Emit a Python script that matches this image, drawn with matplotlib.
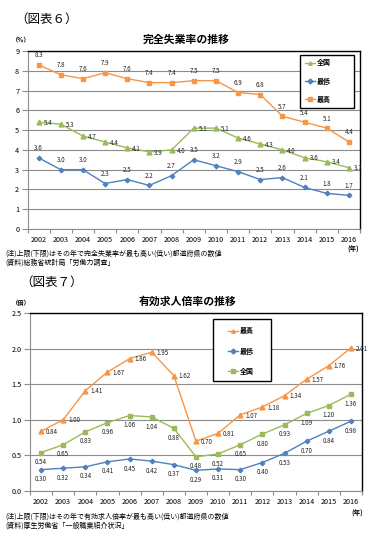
import matplotlib
matplotlib.use("Agg")
import matplotlib.pyplot as plt
from matplotlib.patches import Rectangle

plt.rcParams['font.family'] = ['Noto Sans CJK JP', 'DejaVu Sans']

years = ['2002', '2003', '2004', '2005', '2006', '2007', '2008', '2009',
         '2010', '2011', '2012', '2013', '2014', '2015', '2016']

# Chart 6: unemployment rate (%)
u_national = [5.4, 5.3, 4.7, 4.4, 4.1, 3.9, 4.0, 5.1, 5.1, 4.6, 4.3, 4.0, 3.6, 3.4, 3.1]
u_lowest = [3.6, 3.0, 3.0, 2.3, 2.5, 2.2, 2.7, 3.5, 3.2, 2.9, 2.5, 2.6, 2.1, 1.8, 1.7]
u_highest = [8.3, 7.8, 7.6, 7.9, 7.6, 7.4, 7.4, 7.5, 7.5, 6.9, 6.8, 5.7, 5.4, 5.1, 4.4]
u_yticks = [0, 1, 2, 3, 4, 5, 6, 7, 8, 9]

# Chart 7: job openings-to-applicants ratio
j_highest = [0.84, 1.00, 1.41, 1.67, 1.86, 1.95, 1.62, 0.70, 0.81, 1.07, 1.18, 1.34, 1.57, 1.76, 2.01]
j_lowest = [0.30, 0.32, 0.34, 0.41, 0.45, 0.42, 0.37, 0.29, 0.31, 0.30, 0.40, 0.53, 0.70, 0.84, 0.98]
j_national = [0.54, 0.65, 0.83, 0.96, 1.06, 1.04, 0.88, 0.48, 0.52, 0.65, 0.80, 0.93, 1.09, 1.20, 1.36]
j_yticks = [0.0, 0.5, 1.0, 1.5, 2.0, 2.5]

GREEN = '#9BBB59'
BLUE = '#4F81BD'
ORANGE = '#F79646'
GRID = '#8C8C8C'

W, H = 380, 546
fig = plt.figure(figsize=(W / 100, H / 100), dpi=100)


def px_axes(l, t, r, b):
    return fig.add_axes([l / W, 1 - b / H, (r - l) / W, (b - t) / H])


def style_axes(ax, yticks, fmt):
    n = len(years)
    ax.set_xlim(-0.5, n - 0.5)
    ax.set_ylim(yticks[0], yticks[-1])
    ax.set_yticks(yticks)
    ax.set_yticklabels([fmt.format(v) for v in yticks], fontsize=5.2)
    ax.set_xticks(range(n))
    ax.set_xticklabels(years, fontsize=5.2)
    ax.set_xticks([i - 0.5 for i in range(n + 1)], minor=True)
    ax.tick_params(axis='x', which='major', length=0, pad=5)
    ax.tick_params(axis='x', which='minor', length=3, color=GRID, width=0.8)
    ax.tick_params(axis='y', length=4, color=GRID, width=0.8, pad=2)
    ax.grid(axis='y', color=GRID, lw=0.8)
    ax.set_axisbelow(True)
    for s in ('left', 'bottom'):
        ax.spines[s].set_color(GRID)
        ax.spines[s].set_linewidth(0.8)
    for s in ('top', 'right'):
        ax.spines[s].set_color('black')
        ax.spines[s].set_linewidth(1.0)


def label(ax, xs, ys, fmt, dx, dy, ha, va):
    for x, y in zip(xs, ys):
        ax.annotate(fmt.format(y), (x, y), xytext=(dx, dy), textcoords='offset points',
                    fontsize=4.5, ha=ha, va=va, color='#222222', annotation_clip=False)


def legend_box(handles, l, t, r, b, hx, ymid, ls):
    rect = Rectangle((l / W, 1 - b / H), (r - l) / W, (b - t) / H, transform=fig.transFigure,
                     facecolor='white', edgecolor='black', lw=1.0, zorder=5)
    fig.add_artist(rect)
    leg = fig.legend(handles=handles, loc='center left', bbox_to_anchor=(hx / W, 1 - ymid / H),
                     bbox_transform=fig.transFigure, fontsize=5, frameon=False,
                     handlelength=1.45, labelspacing=ls, borderpad=0, handletextpad=0.2,
                     borderaxespad=0)
    leg.set_zorder(6)
    for h in leg.legend_handles:
        h.set_markersize(2.5)
    for t in leg.get_texts():
        t.set_fontweight('bold')
    return leg


x = list(range(len(years)))

# ---------- Chart 6 ----------
fig.text(15 / W, 1 - 19 / H, '（図表６）', fontsize=9, ha='left', va='center')
fig.text(12 / W, 1 - 40 / H, '（%）', fontsize=4.5, ha='left', va='center', weight='bold')
fig.text(186 / W, 1 - 40 / H, '完全失業率の推移', fontsize=7.8, ha='center', va='center', weight='bold')

ax1 = px_axes(27.5, 51, 360, 229)
l1, = ax1.plot(x, u_national, color=GREEN, marker='^', ms=3.5, lw=1, label='全国')
l2, = ax1.plot(x, u_lowest, color=BLUE, marker='D', ms=2.3, lw=1, label='最低')
l3, = ax1.plot(x, u_highest, color=ORANGE, marker='s', ms=3.2, lw=1, label='最高')
style_axes(ax1, u_yticks, '{:d}')
label(ax1, x, u_national, '{:.1f}', 3.5, -0.5, 'left', 'center')
label(ax1, x, u_lowest, '{:.1f}', 0, 4, 'center', 'bottom')
label(ax1, x, u_highest, '{:.1f}', 0, 4, 'center', 'bottom')
legend_box([l1, l2, l3], 300, 55, 354, 108, 305, 81, 1.6)

fig.text(353 / W, 1 - 249 / H, '(年)', fontsize=4.8, ha='center', va='center', weight='bold')
fig.text(5 / W, 1 - 254 / H, '(注)上限(下限)はその年で完全失業率が最も高い(低い)都道府県の数値',
         fontsize=5, ha='left', va='center')
fig.text(5 / W, 1 - 263 / H, '(資料)総務省統計局「労働力調査」',
         fontsize=5, ha='left', va='center')

# ---------- Chart 7 ----------
fig.text(20 / W, 1 - 282 / H, '（図表７）', fontsize=9, ha='left', va='center')
fig.text(12 / W, 1 - 303 / H, '（倍）', fontsize=4.5, ha='left', va='center', weight='bold')
fig.text(188 / W, 1 - 302 / H, '有効求人倍率の推移', fontsize=7.8, ha='center', va='center', weight='bold')

ax2 = px_axes(30, 313, 362, 491)
m1, = ax2.plot(x, j_highest, color=ORANGE, marker='^', ms=3.5, lw=1, label='最高')
m2, = ax2.plot(x, j_lowest, color=BLUE, marker='D', ms=2.3, lw=1, label='最低')
m3, = ax2.plot(x, j_national, color=GREEN, marker='s', ms=3.2, lw=1, label='全国')
style_axes(ax2, j_yticks, '{:.1f}')
label(ax2, x, j_highest, '{:.2f}', 3.5, -0.5, 'left', 'center')
label(ax2, x, j_lowest, '{:.2f}', 0, -4, 'center', 'top')
label(ax2, x, j_national, '{:.2f}', 0, -4, 'center', 'top')
legend_box([m1, m2, m3], 213, 319, 271, 381, 228, 351, 1.87)

fig.text(357 / W, 1 - 513 / H, '(年)', fontsize=4.8, ha='center', va='center', weight='bold')
fig.text(5 / W, 1 - 517 / H, '(注)上限(下限)はその年で有効求人倍率が最も高い(低い)都道府県の数値',
         fontsize=5, ha='left', va='center')
fig.text(5 / W, 1 - 526 / H, '(資料)厚生労働省「一般職業紹介状況」',
         fontsize=5, ha='left', va='center')

fig.savefig('out.png', dpi=100)
